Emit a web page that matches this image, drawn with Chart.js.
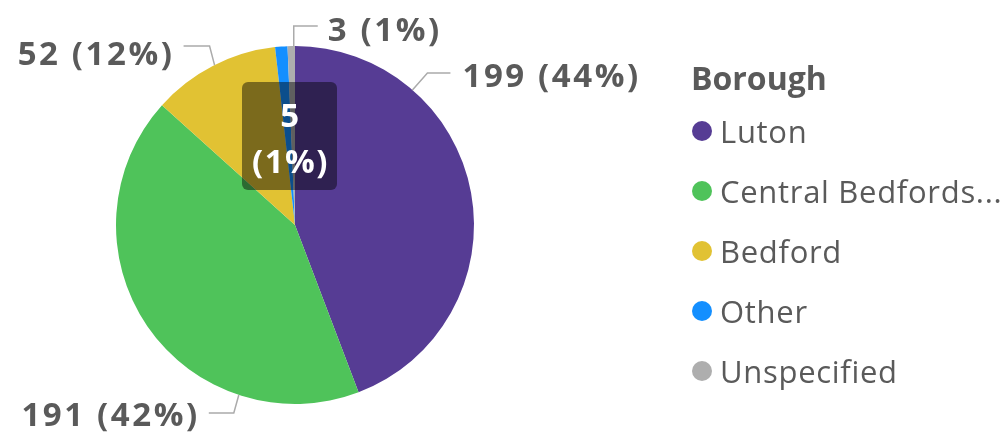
<!DOCTYPE html>
<html><head><meta charset="utf-8">
<script src="https://cdn.jsdelivr.net/npm/chart.js@4"></script>
<style>html,body{margin:0;padding:0;background:#fff;}#wrap{width:1007px;height:438px;position:relative;}</style>
</head><body><div id="wrap"><canvas id="c" width="1007" height="438"></canvas></div>
<script>
const categories = ['Luton', 'Central Bedfordshire', 'Bedford', 'Other', 'Unspecified'];
const values = [199, 191, 52, 5, 3];
const sliceColors = ['#563C94', '#4FC35A', '#E1C233', '#148FFF', '#AEAEAE'];
const legendTitle = 'Borough';

const FONT = '"Open Sans", "Noto Sans", sans-serif';
const total = values.reduce((a, b) => a + b, 0);
const labelText = v => v + ' (' + Math.round(v / total * 100) + '%)';

// outside label layout: anchor angle (deg clockwise from top), elbow offset, horizontal run, baseline offset
const outside = {
  0: {deg: 41, ex: 15, ey: -17, run: 23, ty: 14, gap: 12},
  1: {deg: 198.3, ex: -5, ey: 18, run: -25, ty: 13, gap: 12},
  2: {deg: 333.3, ex: -5, ey: -19, run: -26, ty: 19, gap: 12},
  4: {deg: 359.6, ex: 0, ey: -20, run: 24, ty: 15, gap: 10}
};

const labelPlugin = {
  id: 'sliceLabels',
  afterDatasetsDraw(chart) {
    const ctx = chart.ctx;
    const meta = chart.getDatasetMeta(0);
    const arc0 = meta.data[0];
    const cx = arc0.x, cy = arc0.y, r = arc0.outerRadius;
    ctx.save();
    ctx.font = '700 33px ' + FONT;
    ctx.letterSpacing = '2.6px';
    ctx.textBaseline = 'alphabetic';
    Object.keys(outside).forEach(k => {
      const i = +k, L = outside[k];
      const a = L.deg * Math.PI / 180;
      const px = cx + r * Math.sin(a), py = cy - r * Math.cos(a);
      const ex = px + L.ex, ey = py + L.ey;
      const hx = ex + L.run;
      ctx.strokeStyle = '#ABABAB';
      ctx.lineWidth = 1.5;
      ctx.beginPath();
      ctx.moveTo(px, py); ctx.lineTo(ex, ey); ctx.lineTo(hx, ey);
      ctx.stroke();
      ctx.fillStyle = '#5A5A5A';
      const t = labelText(values[i]);
      if (L.run > 0) { ctx.textAlign = 'left'; ctx.fillText(t, hx + L.gap, ey + L.ty); }
      else { ctx.textAlign = 'right'; ctx.fillText(t, hx - L.gap + 3, ey + L.ty); }
    });
    // inside label for "Other"
    const bx = cx - 53, by = cy - 143, bw = 95, bh = 108;
    ctx.fillStyle = 'rgba(0,0,0,0.45)';
    ctx.beginPath();
    ctx.roundRect(bx, by, bw, bh, 6);
    ctx.fill();
    ctx.fillStyle = '#FFFFFF';
    ctx.textAlign = 'center';
    ctx.letterSpacing = '1.5px';
    ctx.font = '700 33px ' + FONT;
    ctx.fillText(String(values[3]), bx + bw / 2 + 1, by + 45);
    ctx.fillText('(' + Math.round(values[3] / total * 100) + '%)', bx + bw / 2 + 1, by + 91);
    ctx.restore();
  }
};

const legendPlugin = {
  id: 'sideLegend',
  afterDraw(chart) {
    const ctx = chart.ctx;
    ctx.save();
    ctx.textBaseline = 'alphabetic';
    ctx.textAlign = 'left';
    ctx.fillStyle = '#5A5A5A';
    ctx.font = '700 32px ' + FONT;
    ctx.fillText(legendTitle, 691, 90);
    ctx.font = '400 31px ' + FONT;
    ctx.letterSpacing = '0.7px';
    const maxW = 1006 - 720;
    categories.forEach((c, i) => {
      const y = 143 + i * 60;
      ctx.fillStyle = sliceColors[i];
      ctx.beginPath(); ctx.arc(702, y - 12, 10, 0, Math.PI * 2); ctx.fill();
      let t = c;
      if (ctx.measureText(t).width > maxW) {
        while (t.length > 1 && ctx.measureText(t + '...').width > maxW) t = t.slice(0, -1);
        t = t + '...';
      }
      ctx.fillStyle = '#5A5A5A';
      ctx.fillText(t, 720, y);
    });
    ctx.restore();
  }
};

new Chart(document.getElementById('c'), {
  type: 'pie',
  data: {
    labels: categories,
    datasets: [{ data: values, backgroundColor: sliceColors, borderWidth: 0 }]
  },
  options: {
    responsive: false,
    animation: false,
    devicePixelRatio: 1,
    layout: { padding: { left: 116, right: 533, top: 46, bottom: 34 } },
    plugins: { legend: { display: false }, tooltip: { enabled: false } }
  },
  plugins: [labelPlugin, legendPlugin]
});
</script>
</body></html>
